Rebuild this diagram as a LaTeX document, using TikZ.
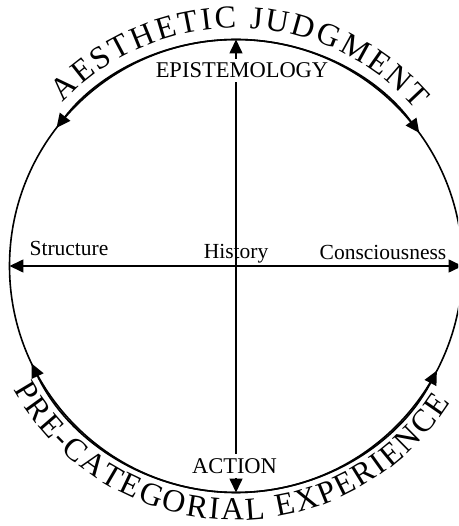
\documentclass[tikz,border=0pt]{standalone}
\usepackage{fontspec}
\setmainfont{Liberation Serif}
\usepackage{tikz}
\usetikzlibrary{arrows.meta,decorations.text}
\tikzset{
  every picture/.style={line join=round, >={Triangle[length=14pt,width=13pt]}},
  rim/.style={line width=1.6pt},
  caps/.style={font=\fontsize{22.5}{26}\selectfont, inner sep=4pt},
  tag/.style={font=\fontsize{21.5}{25}\selectfont, inner sep=0pt, anchor=base},
}
\newcommand\arcfont{\fontsize{32}{32}\selectfont}

\begin{document}
\begin{tikzpicture}[x=1pt,y=1pt]
\useasboundingbox (-236,-260) rectangle (222,266);
\clip (-236,-260) rectangle (222,266);
\node[circle,draw,rim,minimum size=453pt,inner sep=0pt,outer sep=0pt] (ring) at (0,0) {};
\node[caps] (epist) at (6,195.5) {EPISTEMOLOGY};
\node[caps] (action) at (-1.5,-200) {ACTION};
\node[tag] (struct) at (-167,10) {Structure};
\node[tag] (hist) at (0,7) {History};
\node[tag] (consc) at (147,6) {Consciousness};
\draw[rim,->] (epist.north -| ring.center) -- (ring.north);
\draw[rim] (epist.south -| ring.center) -- (action.north -| ring.center);
\draw[rim,->] (action.south -| ring.center) -- (ring.south);
\draw[rim,<->] (ring.west) -- (ring.east);
\draw[rim,->] (ring.north) arc[start angle=90,end angle=142.4,radius=226.5];
\draw[rim,->] (ring.north) arc[start angle=90,end angle=36,radius=226.5];
\draw[rim,->] (ring.south) arc[start angle=270,end angle=205.5,radius=226.5];
\draw[rim,->] (ring.south) arc[start angle=270,end angle=332.5,radius=226.5];
\path[decorate,decoration={text along path,text={|\arcfont|AESTHETIC JUDGMENT},text align={fit to path}}]
  (136.7:238) arc[start angle=136.7,end angle=41,radius=238];
\path[decorate,decoration={text along path,text={|\arcfont|PRE-CATEGORIAL EXPERIENCE},text align={fit to path}}]
  (209:254) arc[start angle=209,end angle=327.5,radius=254];
\end{tikzpicture}
\end{document}
